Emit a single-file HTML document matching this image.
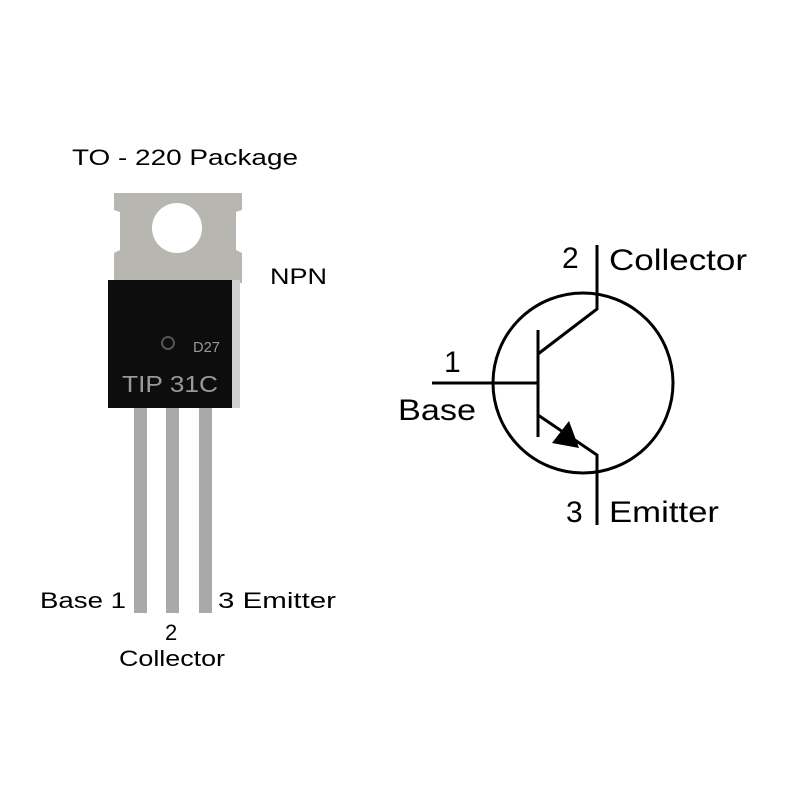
<!DOCTYPE html>
<html><head><style>body{margin:0;background:#fff}</style></head><body>
<svg width="800" height="800" xmlns="http://www.w3.org/2000/svg" font-family="Liberation Sans, sans-serif">
<rect width="800" height="800" fill="#fff"/>
<text x="72" y="165" font-size="22" textLength="226" lengthAdjust="spacingAndGlyphs" fill="#000">TO - 220 Package</text>
<text x="270" y="284" font-size="22" textLength="57" lengthAdjust="spacingAndGlyphs" fill="#000">NPN</text>
<!-- leads -->
<rect x="134" y="405" width="13" height="208" fill="#a9a9a9"/>
<rect x="166" y="405" width="13" height="208" fill="#a9a9a9"/>
<rect x="199" y="405" width="13" height="208" fill="#a9a9a9"/>
<!-- tab -->
<path d="M114 193 H242 V210 L236 212 V250 L242 253 V283 H114 V253 L120 250 V212 L114 210 Z" fill="#b8b6b0"/>
<circle cx="177" cy="228" r="25" fill="#fff"/>
<rect x="108" y="280" width="132" height="128" fill="#d0d0d0"/>
<rect x="108" y="280" width="124" height="128" fill="#0d0d0d"/>
<circle cx="168" cy="343" r="6" fill="none" stroke="#555" stroke-width="2"/>
<text x="193" y="352" font-size="15" textLength="27" lengthAdjust="spacingAndGlyphs" fill="#999">D27</text>
<text x="122" y="392" font-size="23" textLength="96" lengthAdjust="spacingAndGlyphs" fill="#999">TIP 31C</text>
<text x="40" y="608" font-size="22" textLength="86" lengthAdjust="spacingAndGlyphs" fill="#000">Base 1</text>
<text x="218" y="608" font-size="22" textLength="118" lengthAdjust="spacingAndGlyphs" fill="#000">3  Emitter</text>
<text x="165" y="640" font-size="22" fill="#000">2</text>
<text x="119" y="666" font-size="22" textLength="106" lengthAdjust="spacingAndGlyphs" fill="#000">Collector</text>
<!-- symbol -->
<g stroke="#000" stroke-width="3" fill="none">
<circle cx="583" cy="383" r="90"/>
<line x1="432" y1="383" x2="538" y2="383"/>
<line x1="538" y1="330" x2="538" y2="437"/>
<polyline points="538,354 597,309 597,245"/>
<polyline points="538,415 597,455 597,525"/>
</g>
<polygon points="552,443 569,421 579,448" fill="#000"/>
<text x="562" y="268" font-size="30" fill="#000">2</text>
<text x="609" y="270" font-size="30" textLength="138" lengthAdjust="spacingAndGlyphs" fill="#000">Collector</text>
<text x="444" y="372" font-size="30" fill="#000">1</text>
<text x="398" y="420" font-size="30" textLength="78" lengthAdjust="spacingAndGlyphs" fill="#000">Base</text>
<text x="566" y="522" font-size="30" fill="#000">3</text>
<text x="609" y="522" font-size="30" textLength="110" lengthAdjust="spacingAndGlyphs" fill="#000">Emitter</text>
</svg>
</body></html>
